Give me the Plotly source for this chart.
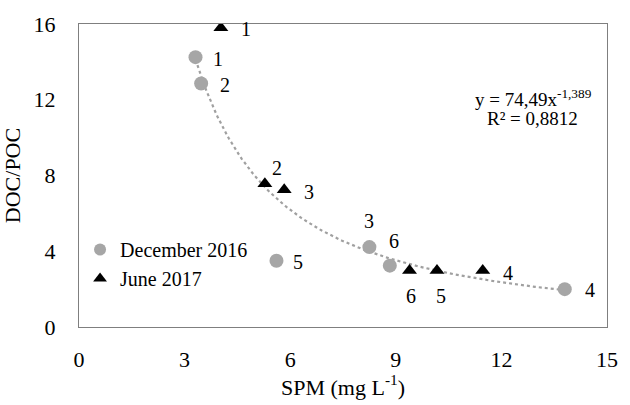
import numpy as np
import plotly.graph_objects as go

# Data
dec_x = [3.31, 3.47, 8.25, 13.8, 5.61, 8.83]
dec_y = [14.25, 12.86, 4.22, 2.0, 3.50, 3.24]
dec_labels = ["1", "2", "3", "4", "5", "6"]

jun_x = [4.03, 5.28, 5.83, 11.47, 10.17, 9.39]
jun_y = [15.8, 7.56, 7.25, 2.98, 2.98, 2.98]
jun_labels = ["1", "2", "3", "4", "5", "6"]

fit_a = 74.49
fit_b = -1.389
fit_r2 = "0,8812"
fit_range = [3.31, 13.8]

x_ticks = [0, 3, 6, 9, 12, 15]
y_ticks = [0, 4, 8, 12, 16]

# label offsets (pixels) - styling
dec_off = [(22, -2), (24, -2), (0, 26), (25, -1), (22, -1), (4, 25)]
jun_off = [(25, -1), (12, 16), (25, -2), (25, -2), (4, -25), (1, -25)]

FONT = "Liberation Serif, Times New Roman, serif"

fig = go.Figure()

xf = np.linspace(fit_range[0], fit_range[1], 200)
fig.add_trace(go.Scatter(x=xf, y=fit_a * xf ** fit_b, mode="lines",
                         line=dict(color="#a0a0a0", width=2.2, dash="dot"),
                         showlegend=False, hoverinfo="skip"))

fig.add_trace(go.Scatter(x=dec_x, y=dec_y, mode="markers", name="December 2016",
                         marker=dict(symbol="circle", size=14, color="#a6a6a6")))
fig.add_trace(go.Scatter(x=jun_x, y=jun_y, mode="markers", name="June 2017",
                         marker=dict(symbol="triangle-up", size=13, color="black")))

for xs, ys, labs, offs in [(dec_x, dec_y, dec_labels, dec_off), (jun_x, jun_y, jun_labels, jun_off)]:
    for xv, yv, lab, (dx, dy) in zip(xs, ys, labs, offs):
        fig.add_annotation(x=xv, y=yv, text=lab, showarrow=False,
                           xshift=dx, yshift=dy,
                           font=dict(family=FONT, size=20, color="black"))

eq_line1 = f"y = {fit_a:.2f}x<sup>{fit_b:.3f}</sup>".replace(".", ",")
eq_line2 = f"R² = {fit_r2}"
fig.add_annotation(xref="paper", yref="paper", x=0.86, y=0.755,
                   xanchor="center", yanchor="middle",
                   text=eq_line1, showarrow=False,
                   font=dict(family=FONT, size=19, color="black"))
fig.add_annotation(xref="paper", yref="paper", x=0.858, y=0.687,
                   xanchor="center", yanchor="middle",
                   text=eq_line2, showarrow=False,
                   font=dict(family=FONT, size=19, color="black"))

fig.update_layout(
    width=630, height=405,
    margin=dict(l=77, r=13, t=19, b=75),
    paper_bgcolor="white", plot_bgcolor="white",
    font=dict(family=FONT, size=22, color="black"),
    showlegend=True,
    legend=dict(x=0.002, y=0.32, xanchor="left", yanchor="top",
                bgcolor="rgba(0,0,0,0)", font=dict(family=FONT, size=20),
                itemsizing="constant", itemwidth=30, tracegroupgap=0),
    xaxis=dict(range=[0, 15], tickvals=x_ticks, showgrid=False, zeroline=False,
               showline=True, linecolor="#7f7f7f", linewidth=1.2, mirror=True,
               ticks="", ticklabelstandoff=12,
               tickfont=dict(family=FONT, size=22),
               title=dict(text="SPM (mg L<sup>-1</sup>)", standoff=6,
                          font=dict(family=FONT, size=22))),
    yaxis=dict(range=[0, 16], tickvals=y_ticks, showgrid=False, zeroline=False,
               showline=True, linecolor="#7f7f7f", linewidth=1.2, mirror=True,
               ticks="", ticklabelstandoff=18,
               tickfont=dict(family=FONT, size=22),
               title=dict(text="DOC/POC", standoff=6,
                          font=dict(family=FONT, size=22))),
)

fig.write_html("out.html")
